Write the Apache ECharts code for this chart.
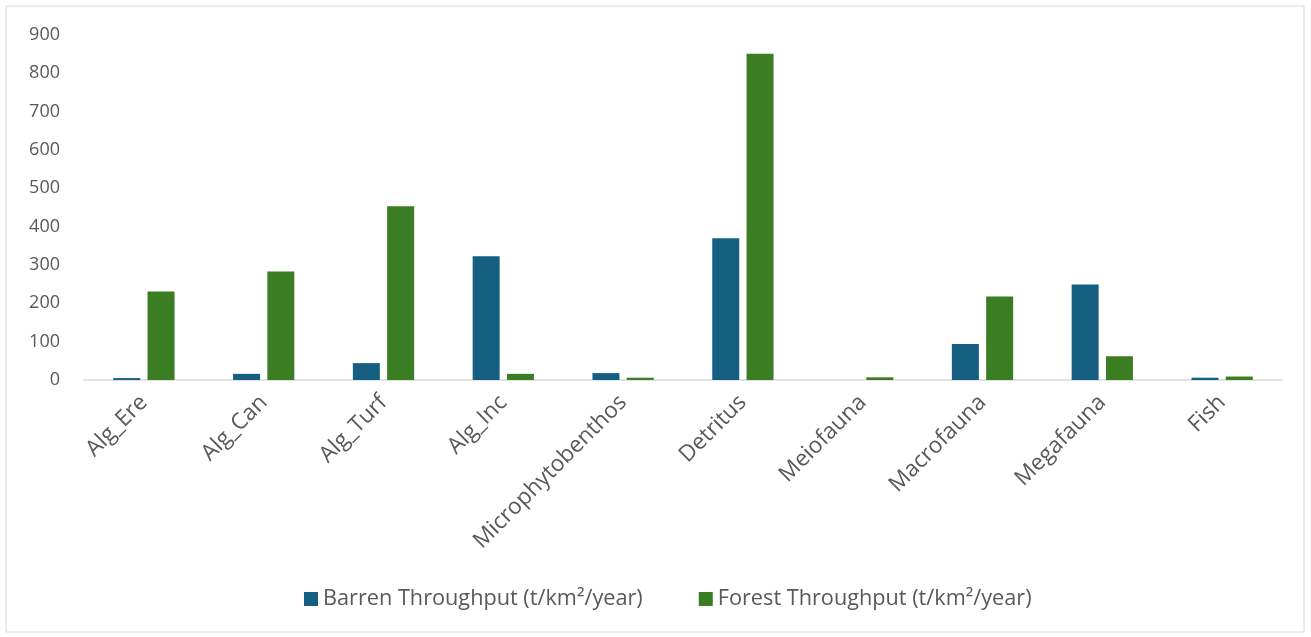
<!DOCTYPE html>
<html>
<head>
<meta charset="utf-8">
<script src="https://cdn.jsdelivr.net/npm/echarts@6/dist/echarts.min.js"></script>
<style>
  html, body { margin: 0; padding: 0; background: #fff; }
  #chart { width: 1311px; height: 637px; }
</style>
</head>
<body>
<div id="chart"></div>
<script>
// Compartments of the food-web model
const categories = ['Alg_Ere', 'Alg_Can', 'Alg_Turf', 'Alg_Inc', 'Microphytobenthos',
  'Detritus', 'Meiofauna', 'Macrofauna', 'Megafauna', 'Fish'];

// Throughput per compartment (t/km²/year)
const barrenThroughput = [5, 16, 44, 323, 18, 370, 0, 94, 249, 6];
const forestThroughput = [231, 283, 453, 16, 6, 851, 7, 218, 62, 9];

const seriesNames = ['Barren Throughput (t/km\u00B2/year)', 'Forest Throughput (t/km\u00B2/year)'];
const yTicks = { min: 0, max: 900, interval: 100 };

const FONT = '"Open Sans", Roboto, "Noto Sans", sans-serif';
const TEXT = '#595959';

const chart = echarts.init(document.getElementById('chart'));
chart.setOption({
  animation: false,
  textStyle: { fontFamily: FONT },
  graphic: [{
    type: 'rect',
    shape: { x: 6, y: 6, width: 1298, height: 626 },
    style: { fill: 'none', stroke: '#d9d9d9', lineWidth: 1 },
    silent: true
  }],
  grid: { left: 84, right: 29, top: 35, bottom: 257 },
  legend: {
    bottom: 22,
    left: 299,
    itemWidth: 14,
    itemHeight: 14,
    itemGap: 56,
    icon: 'rect',
    textStyle: { fontSize: 21.7, color: TEXT, fontFamily: FONT },
    data: seriesNames
  },
  xAxis: {
    type: 'category',
    data: categories,
    axisLine: { lineStyle: { color: '#d9d9d9', width: 1.5 } },
    axisTick: { show: false },
    axisLabel: { rotate: 45, fontSize: 22.5, color: TEXT, margin: 19, interval: 0, fontFamily: FONT }
  },
  yAxis: {
    type: 'value',
    min: yTicks.min,
    max: yTicks.max,
    interval: yTicks.interval,
    axisLine: { show: false },
    axisTick: { show: false },
    splitLine: { show: false },
    axisLabel: { fontSize: 18, color: TEXT, margin: 24, fontFamily: FONT }
  },
  series: [
    {
      name: seriesNames[0],
      type: 'bar',
      data: barrenThroughput,
      barWidth: 27,
      barGap: '27%',
      itemStyle: { color: '#156082' }
    },
    {
      name: seriesNames[1],
      type: 'bar',
      data: forestThroughput,
      barWidth: 27,
      barGap: '27%',
      itemStyle: { color: '#3b7d23' }
    }
  ]
});
</script>
</body>
</html>
